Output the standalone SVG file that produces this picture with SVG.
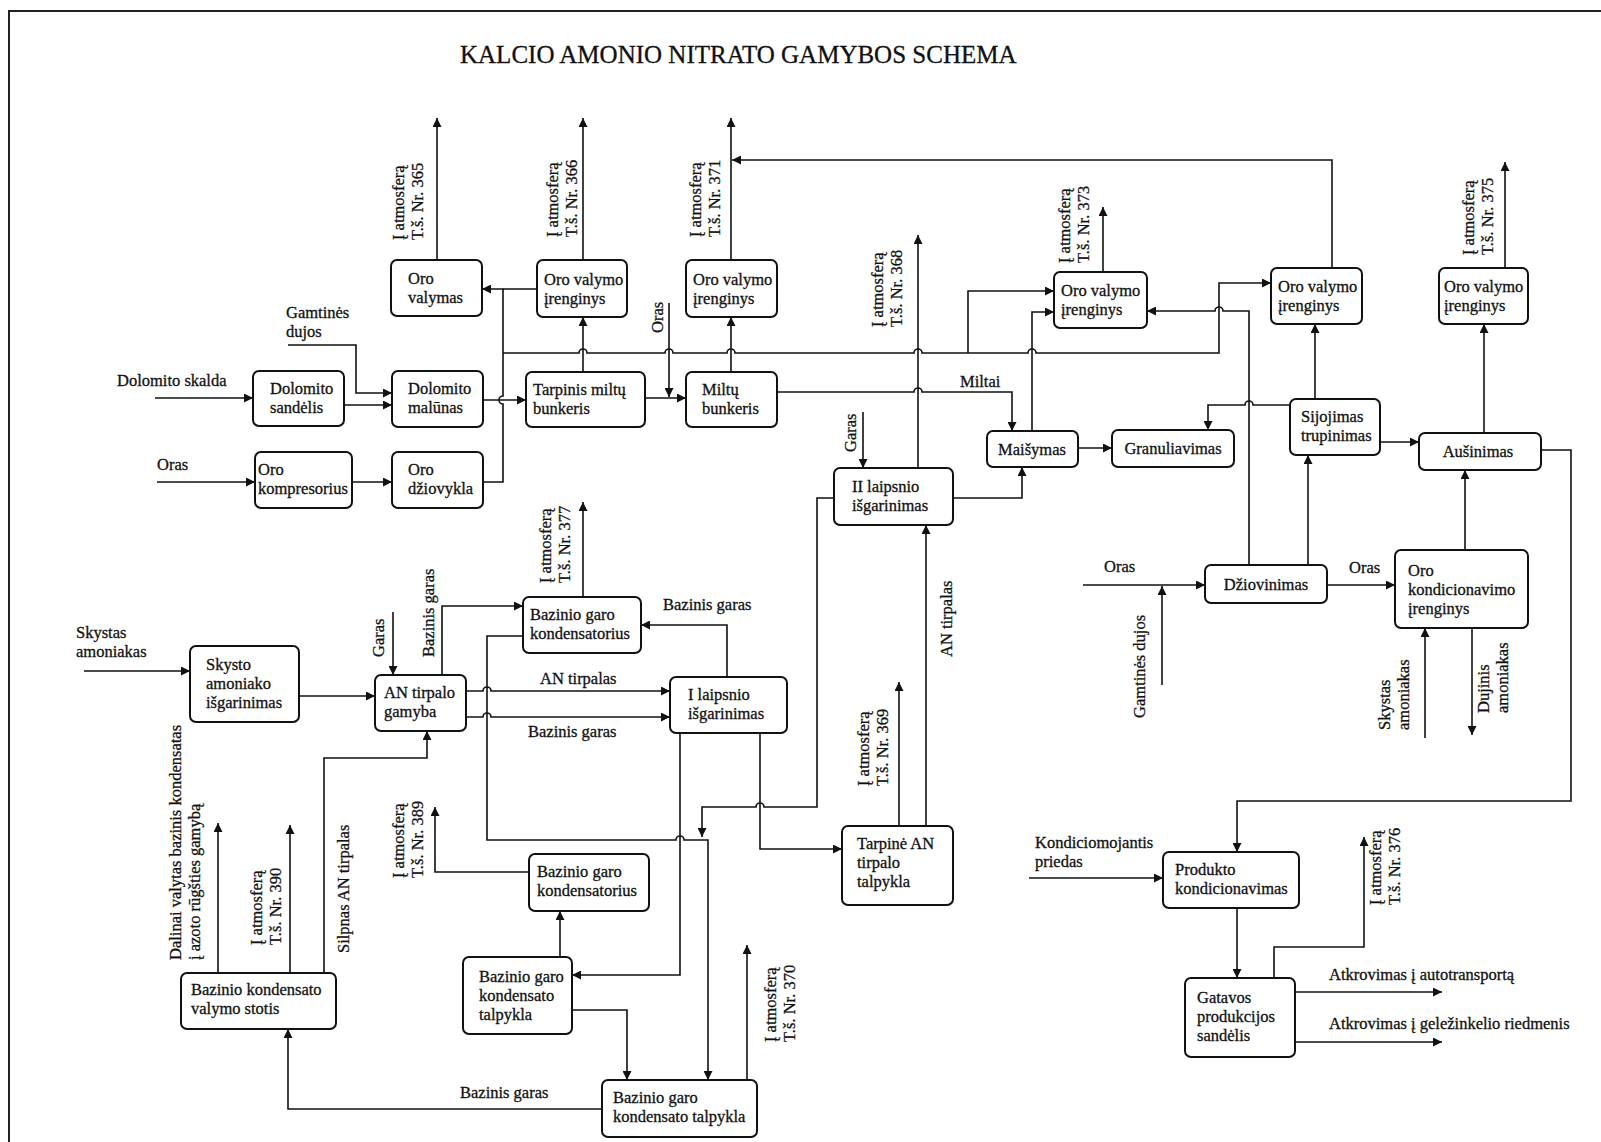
<svg xmlns="http://www.w3.org/2000/svg" width="1601" height="1142" viewBox="0 0 1601 1142">
<style>
text{font-family:"Liberation Serif","Times New Roman",serif;font-size:16.5px;fill:#111;stroke:#111;stroke-width:0.3}
.t{font-size:25px}
.b rect{fill:#fff;stroke:#111;stroke-width:2}
.c path{fill:none;stroke:#111;stroke-width:1.6}
.a{marker-end:url(#ah)}
.frame{fill:none;stroke:#222;stroke-width:2}
.m{text-anchor:middle}
</style>
<defs>
<marker id="ah" markerUnits="userSpaceOnUse" markerWidth="10" markerHeight="9" refX="9" refY="4.5" orient="auto">
<path d="M0,0 L9,4.5 L0,9 z" fill="#111"/>
</marker>
</defs>
<rect width="1601" height="1142" fill="#fff"/>
<path class="frame" d="M9,1142 V11 H1601"/>
<text class="t" x="460" y="63">KALCIO AMONIO NITRATO GAMYBOS SCHEMA</text>

<g class="c" id="connectors">
<path class="a" d="M155,398 H253"/>
<path class="a" d="M344,405 H392"/>
<path class="a" d="M288,345 H356 V393 H392"/>
<path class="a" d="M157,482 H255"/>
<path class="a" d="M352,482 H392"/>
<path class="a" d="M483,482 H503 V404 a4,4 0 0 1 0,-8 V289 H482"/>
<path d="M537,289 H503"/>
<path class="a" d="M503,353 H579 a4,4 0 0 1 8,0 H665 a4,4 0 0 1 8,0 H727 a4,4 0 0 1 8,0 H914 a4,4 0 0 1 8,0 H1028 a4,4 0 0 1 8,0 H1219 V283 H1271"/>
<path class="a" d="M968,353 V291 H1054"/>
<path class="a" d="M483,400 H526"/>
<path class="a" d="M583,372 V317"/>
<path class="a" d="M645,398 H686"/>
<path class="a" d="M669,303 V397"/>
<path class="a" d="M731,372 V317"/>
<path class="a" d="M437,260 V118"/>
<path class="a" d="M583,260 V118"/>
<path class="a" d="M731,260 V118"/>
<path class="a" d="M1332,268 V160 H732"/>
<path class="a" d="M777,392 H914 a4,4 0 0 1 8,0 H1012 V431"/>
<path class="a" d="M918,468 V235"/>
<path class="a" d="M863,412 V468"/>
<path class="a" d="M953,498 H1022 V467"/>
<path class="a" d="M1032,431 V312 H1054"/>
<path class="a" d="M1103,272 V207"/>
<path class="a" d="M1078,448 H1112"/>
<path class="a" d="M1249,565 V311 H1223 a4,4 0 0 0 -8,0 H1147"/>
<path class="a" d="M1290,405 H1253 a4,4 0 0 0 -8,0 H1208 V430"/>
<path class="a" d="M1315,399 V324"/>
<path class="a" d="M1380,442 H1419"/>
<path class="a" d="M1308,565 V455"/>
<path class="a" d="M1083,585 H1205"/>
<path class="a" d="M1162,685 V586"/>
<path class="a" d="M1327,585 H1395"/>
<path class="a" d="M1465,550 V470"/>
<path class="a" d="M1425,738 V628"/>
<path class="a" d="M1472,628 V735"/>
<path class="a" d="M1484,433 V324"/>
<path class="a" d="M1505,268 V162"/>
<path class="a" d="M1541,450 H1571 V801 H1237 V852"/>
<path class="a" d="M1029,878 H1163"/>
<path class="a" d="M1237,908 V978"/>
<path class="a" d="M1274,978 V947 H1364 V837"/>
<path class="a" d="M1295,992 H1442"/>
<path class="a" d="M1295,1042 H1442"/>
<path class="a" d="M84,671 H190"/>
<path class="a" d="M299,696 H375"/>
<path class="a" d="M393,612 V675"/>
<path class="a" d="M442,675 V606 H523"/>
<path class="a" d="M583,597 V502"/>
<path class="a" d="M727,677 V625 H641"/>
<path class="a" d="M466,691 H483 a4,4 0 0 1 8,0 H670"/>
<path class="a" d="M466,717 H483 a4,4 0 0 1 8,0 H670"/>
<path class="a" d="M523,636 H487 V840 H676 a4,4 0 0 1 8,0 H708 V1080"/>
<path class="a" d="M834,498 H817 V807 H764 a4,4 0 0 0 -8,0 H702 V837"/>
<path class="a" d="M760,733 V849 H842"/>
<path class="a" d="M680,733 V975 H572"/>
<path class="a" d="M899,826 V682"/>
<path class="a" d="M926,826 V525"/>
<path class="a" d="M560,957 V911"/>
<path class="a" d="M529,872 H435 V807"/>
<path class="a" d="M572,1010 H627 V1080"/>
<path class="a" d="M747,1080 V945"/>
<path class="a" d="M602,1109 H288 V1029"/>
<path class="a" d="M324,973 V758 H427 V731"/>
<path class="a" d="M290,973 V825"/>
<path class="a" d="M218,973 V823"/>
</g>

<g class="b">
<g id="oro-valymas"><rect x="391" y="260" width="91" height="56" rx="6"/><text x="408" y="284">Oro</text><text x="408" y="303">valymas</text></g>
<g id="oro-valymo-366"><rect x="537" y="260" width="90" height="57" rx="6"/><text x="544" y="285">Oro valymo</text><text x="544" y="304">įrenginys</text></g>
<g id="oro-valymo-371"><rect x="686" y="260" width="91" height="57" rx="6"/><text x="693" y="285">Oro valymo</text><text x="693" y="304">įrenginys</text></g>
<g id="oro-valymo-373"><rect x="1054" y="272" width="93" height="56" rx="6"/><text x="1061" y="296">Oro valymo</text><text x="1061" y="315">įrenginys</text></g>
<g id="oro-valymo-374"><rect x="1271" y="268" width="91" height="56" rx="6"/><text x="1278" y="292">Oro valymo</text><text x="1278" y="311">įrenginys</text></g>
<g id="oro-valymo-375"><rect x="1439" y="268" width="89" height="56" rx="6"/><text x="1444" y="292">Oro valymo</text><text x="1444" y="311">įrenginys</text></g>
<g id="dolomito-sandelis"><rect x="253" y="371" width="91" height="55" rx="6"/><text x="270" y="394">Dolomito</text><text x="270" y="413">sandėlis</text></g>
<g id="dolomito-malunas"><rect x="392" y="371" width="91" height="56" rx="6"/><text x="408" y="394">Dolomito</text><text x="408" y="413">malūnas</text></g>
<g id="tarpinis-bunkeris"><rect x="526" y="372" width="119" height="55" rx="6"/><text x="533" y="395">Tarpinis miltų</text><text x="533" y="414">bunkeris</text></g>
<g id="miltu-bunkeris"><rect x="686" y="372" width="91" height="55" rx="6"/><text x="702" y="395">Miltų</text><text x="702" y="414">bunkeris</text></g>
<g id="oro-kompresorius"><rect x="255" y="452" width="97" height="56" rx="6"/><text x="258" y="475">Oro</text><text x="258" y="494">kompresorius</text></g>
<g id="oro-dziovykla"><rect x="392" y="452" width="91" height="56" rx="6"/><text x="408" y="475">Oro</text><text x="408" y="494">džiovykla</text></g>
<g id="maisymas"><rect x="987" y="431" width="91" height="36" rx="6"/><text class="m" x="1032" y="455">Maišymas</text></g>
<g id="granuliavimas"><rect x="1112" y="430" width="122" height="37" rx="6"/><text class="m" x="1173" y="454">Granuliavimas</text></g>
<g id="sijojimas"><rect x="1290" y="399" width="90" height="56" rx="6"/><text x="1301" y="422">Sijojimas</text><text x="1301" y="441">trupinimas</text></g>
<g id="ausinimas"><rect x="1419" y="433" width="122" height="37" rx="6"/><text class="m" x="1478" y="457">Aušinimas</text></g>
<g id="ii-laipsnio"><rect x="834" y="468" width="119" height="57" rx="6"/><text x="852" y="492">II laipsnio</text><text x="852" y="511">išgarinimas</text></g>
<g id="dziovinimas"><rect x="1205" y="565" width="122" height="38" rx="6"/><text class="m" x="1266" y="590">Džiovinimas</text></g>
<g id="oro-kondicionavimo"><rect x="1395" y="550" width="133" height="78" rx="6"/><text x="1408" y="576">Oro</text><text x="1408" y="595">kondicionavimo</text><text x="1408" y="614">įrenginys</text></g>
<g id="kondensatorius-377"><rect x="523" y="597" width="118" height="56" rx="6"/><text x="530" y="620">Bazinio garo</text><text x="530" y="639">kondensatorius</text></g>
<g id="an-gamyba"><rect x="375" y="675" width="91" height="56" rx="6"/><text x="384" y="698">AN tirpalo</text><text x="384" y="717">gamyba</text></g>
<g id="skysto-amoniako"><rect x="190" y="646" width="109" height="76" rx="6"/><text x="206" y="670">Skysto</text><text x="206" y="689">amoniako</text><text x="206" y="708">išgarinimas</text></g>
<g id="i-laipsnio"><rect x="670" y="677" width="117" height="56" rx="6"/><text x="688" y="700">I laipsnio</text><text x="688" y="719">išgarinimas</text></g>
<g id="tarpine-talpykla"><rect x="842" y="826" width="111" height="79" rx="6"/><text x="857" y="849">Tarpinė AN</text><text x="857" y="868">tirpalo</text><text x="857" y="887">talpykla</text></g>
<g id="kondensatorius-389"><rect x="529" y="854" width="120" height="57" rx="6"/><text x="537" y="877">Bazinio garo</text><text x="537" y="896">kondensatorius</text></g>
<g id="kondensato-talpykla-1"><rect x="463" y="957" width="109" height="77" rx="6"/><text x="479" y="982">Bazinio garo</text><text x="479" y="1001">kondensato</text><text x="479" y="1020">talpykla</text></g>
<g id="kondensato-talpykla-2"><rect x="602" y="1080" width="155" height="57" rx="6"/><text x="613" y="1103">Bazinio garo</text><text x="613" y="1122">kondensato talpykla</text></g>
<g id="valymo-stotis"><rect x="181" y="973" width="155" height="56" rx="6"/><text x="191" y="995">Bazinio kondensato</text><text x="191" y="1014">valymo stotis</text></g>
<g id="produkto-kondicionavimas"><rect x="1163" y="852" width="136" height="56" rx="6"/><text x="1175" y="875">Produkto</text><text x="1175" y="894">kondicionavimas</text></g>
<g id="gatavos-sandelis"><rect x="1185" y="978" width="110" height="79" rx="6"/><text x="1197" y="1003">Gatavos</text><text x="1197" y="1022">produkcijos</text><text x="1197" y="1041">sandėlis</text></g>
</g>

<g id="labels">
<text x="117" y="386">Dolomito skalda</text>
<text x="286" y="318">Gamtinės</text><text x="286" y="337">dujos</text>
<text x="157" y="470">Oras</text>
<text x="76" y="638">Skystas</text><text x="76" y="657">amoniakas</text>
<text x="960" y="387">Miltai</text>
<text x="663" y="610">Bazinis garas</text>
<text x="540" y="684">AN tirpalas</text>
<text x="528" y="737">Bazinis garas</text>
<text x="1104" y="572">Oras</text>
<text x="1349" y="573">Oras</text>
<text x="1035" y="848">Kondiciomojantis</text><text x="1035" y="867">priedas</text>
<text x="1329" y="980">Atkrovimas į autotransportą</text>
<text x="1329" y="1029">Atkrovimas į geležinkelio riedmenis</text>
<text x="460" y="1098">Bazinis garas</text>

<text transform="translate(384,657) rotate(-90)">Garas</text>
<text transform="translate(434,657) rotate(-90)">Bazinis garas</text>
<text transform="translate(663,333) rotate(-90)">Oras</text>
<text transform="translate(856,452) rotate(-90)">Garas</text>
<text transform="translate(952,657) rotate(-90)">AN tirpalas</text>
<text transform="translate(1145,718) rotate(-90)">Gamtinės dujos</text>
<text transform="translate(1390,730) rotate(-90)"><tspan x="0" y="0">Skystas</tspan><tspan x="0" y="19">amoniakas</tspan></text>
<text transform="translate(1489,713) rotate(-90)"><tspan x="0" y="0">Dujinis</tspan><tspan x="0" y="19">amoniakas</tspan></text>
<text transform="translate(349,953) rotate(-90)">Silpnas AN tirpalas</text>
<text transform="translate(181,960) rotate(-90)"><tspan x="0" y="0">Dalinai valytas bazinis kondensatas</tspan><tspan x="0" y="19">į azoto rūgšties gamybą</tspan></text>

<text transform="translate(404,240) rotate(-90)"><tspan x="0" y="0">Į atmosferą</tspan><tspan x="0" y="19">T.š. Nr. 365</tspan></text>
<text transform="translate(558,237) rotate(-90)"><tspan x="0" y="0">Į atmosferą</tspan><tspan x="0" y="19">T.š. Nr. 366</tspan></text>
<text transform="translate(701,237) rotate(-90)"><tspan x="0" y="0">Į atmosferą</tspan><tspan x="0" y="19">T.š. Nr. 371</tspan></text>
<text transform="translate(883,327) rotate(-90)"><tspan x="0" y="0">Į atmosferą</tspan><tspan x="0" y="19">T.š. Nr. 368</tspan></text>
<text transform="translate(1070,263) rotate(-90)"><tspan x="0" y="0">Į atmosferą</tspan><tspan x="0" y="19">T.š. Nr. 373</tspan></text>
<text transform="translate(1474,255) rotate(-90)"><tspan x="0" y="0">Į atmosferą</tspan><tspan x="0" y="19">T.š. Nr. 375</tspan></text>
<text transform="translate(551,583) rotate(-90)"><tspan x="0" y="0">Į atmosferą</tspan><tspan x="0" y="19">T.š. Nr. 377</tspan></text>
<text transform="translate(869,786) rotate(-90)"><tspan x="0" y="0">Į atmosferą</tspan><tspan x="0" y="19">T.š. Nr. 369</tspan></text>
<text transform="translate(404,878) rotate(-90)"><tspan x="0" y="0">Į atmosferą</tspan><tspan x="0" y="19">T.š. Nr. 389</tspan></text>
<text transform="translate(262,945) rotate(-90)"><tspan x="0" y="0">Į atmosferą</tspan><tspan x="0" y="19">T.š. Nr. 390</tspan></text>
<text transform="translate(776,1042) rotate(-90)"><tspan x="0" y="0">Į atmosferą</tspan><tspan x="0" y="19">T.š. Nr. 370</tspan></text>
<text transform="translate(1381,905) rotate(-90)"><tspan x="0" y="0">Į atmosferą</tspan><tspan x="0" y="19">T.š. Nr. 376</tspan></text>
</g>
</svg>
